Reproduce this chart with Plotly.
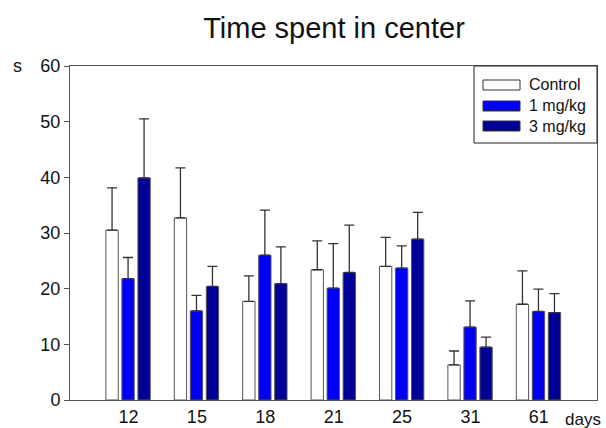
import plotly.graph_objects as go

days = ["12", "15", "18", "21", "25", "31", "61"]
series_names = ["Control", "1 mg/kg", "3 mg/kg"]
control = [30.5, 32.7, 17.7, 23.4, 24.0, 6.3, 17.2]
control_err = [7.6, 9.0, 4.6, 5.2, 5.2, 2.5, 6.0]
mg1 = [21.8, 16.0, 26.0, 20.1, 23.7, 13.1, 15.9]
mg1_err = [3.8, 2.8, 8.1, 8.0, 4.0, 4.7, 4.0]
mg3 = [39.9, 20.4, 20.9, 22.9, 28.9, 9.5, 15.7]
mg3_err = [10.6, 3.6, 6.6, 8.5, 4.8, 1.8, 3.4]

fills = ["#ffffff", "#0000fa", "#000096"]
offsets = [-0.33, -0.096, 0.138]
bar_w = 0.18

FONT = "Arial, Liberation Sans, sans-serif"
xpos = list(range(1, len(days) + 1))

fig = go.Figure()
for name, vals, errs, col, off in zip(series_names, [control, mg1, mg3],
                                       [control_err, mg1_err, mg3_err], fills, offsets):
    fig.add_trace(go.Bar(
        x=xpos, y=vals, name=name, width=bar_w, offset=off,
        marker=dict(color=col, line=dict(color="#555555", width=1)),
        error_y=dict(type="data", array=errs, symmetric=False, arrayminus=[0] * len(errs),
                     color="#333333", thickness=1.3, width=5),
        showlegend=False,
    ))

# plot area in pixels
L, R, T, B = 70, 597, 66, 400
def px(x):
    return (x - L) / (R - L)
def py(y):
    return (B - y) / (B - T)

shapes = []
annotations = []
# legend box
shapes.append(dict(type="rect", xref="paper", yref="paper",
                   x0=px(474), x1=1, y0=py(143), y1=1,
                   line=dict(color="#222222", width=1), fillcolor="rgba(0,0,0,0)"))
rows = [85, 106, 126]
for name, col, yc in zip(series_names, fills, rows):
    shapes.append(dict(type="rect", xref="paper", yref="paper",
                       x0=px(483), x1=px(520), y0=py(yc + 5), y1=py(yc - 5),
                       line=dict(color="#333333", width=1), fillcolor=col))
    annotations.append(dict(xref="paper", yref="paper", x=px(527), y=py(yc),
                            text=name, showarrow=False, xanchor="left", yanchor="middle",
                            font=dict(family=FONT, size=16, color="#111111")))

annotations.append(dict(xref="paper", yref="paper", x=px(583), y=0, yshift=-19,
                        text="days", showarrow=False, xanchor="center", yanchor="middle",
                        font=dict(family=FONT, size=17, color="#111111")))
annotations.append(dict(xref="paper", yref="paper", x=px(17), y=1,
                        text="s", showarrow=False, xanchor="center", yanchor="middle",
                        font=dict(family=FONT, size=18, color="#111111")))

fig.update_layout(
    width=606, height=428,
    margin=dict(l=L, r=606 - R, t=T, b=428 - B, autoexpand=False),
    paper_bgcolor="white", plot_bgcolor="white",
    barmode="overlay",
    title=dict(text="Time spent in center", x=px(334), xref="paper", xanchor="center",
               y=0.935, yanchor="middle",
               font=dict(family=FONT, size=29, color="#111111")),
    font=dict(family=FONT, size=18, color="#111111"),
    shapes=shapes, annotations=annotations,
    xaxis=dict(range=[0.145, 7.85], tickvals=xpos, ticktext=days, ticks="",
               automargin=False,
               showline=True, linecolor="#555555", linewidth=1, mirror=True,
               showgrid=False, zeroline=False, tickfont=dict(family=FONT, size=18)),
    yaxis=dict(range=[0, 60], dtick=10, ticks="outside", ticklen=5, tickcolor="#555555",
               automargin=False,
               showline=True, linecolor="#555555", linewidth=1, mirror=True,
               showgrid=False, zeroline=False, tickfont=dict(family=FONT, size=18)),
)

fig.write_html("out.html")
